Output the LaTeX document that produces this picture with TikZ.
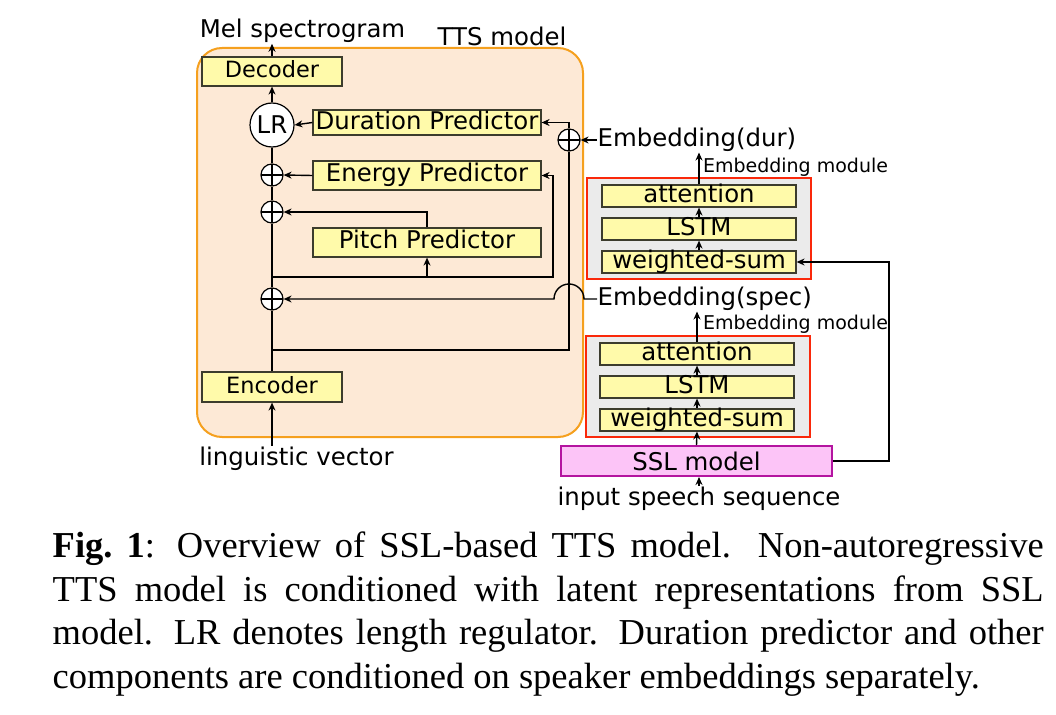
\documentclass[tikz,border=0pt]{standalone}
\usepackage{fontspec}
\setmainfont{Liberation Serif}
\newfontfamily\diagfont{DejaVu Sans}
\usetikzlibrary{arrows.meta}

\definecolor{ttsfill}{RGB}{253,233,214}
\definecolor{ttsline}{RGB}{245,160,30}
\definecolor{blockfill}{RGB}{255,250,170}
\definecolor{blockline}{RGB}{60,60,45}
\definecolor{modfill}{RGB}{235,235,235}
\definecolor{modline}{RGB}{250,40,10}
\definecolor{sslfill}{RGB}{252,196,247}
\definecolor{sslline}{RGB}{180,20,160}

\newcommand{\bigtxt}{\diagfont\fontsize{24.4}{28}\selectfont}
\newcommand{\midtxt}{\diagfont\fontsize{22.4}{26}\selectfont}
\newcommand{\smalltxt}{\diagfont\fontsize{19}{22}\selectfont}

\begin{document}
\begin{tikzpicture}[x=1pt, y=-1pt, line width=1.4pt, >={Stealth[length=8pt,width=7pt]},
  txt/.style={font=\bigtxt, inner sep=0pt},
  block/.style={draw=blockline, fill=blockfill, line width=1.2pt, inner sep=0pt, font=\bigtxt, text height=18pt, text depth=6pt},
  small block/.style={block, minimum width=194pt, minimum height=22pt, text height=17pt, text depth=5pt},
  module/.style={draw=modline, fill=modfill, line width=2pt, minimum width=224pt, minimum height=101pt},
  opl/.style={circle, draw, fill=white, line width=1.2pt, minimum size=22pt, inner sep=0pt,
    path picture={\draw (path picture bounding box.north) -- (path picture bounding box.south)
      (path picture bounding box.west) -- (path picture bounding box.east);}}]
\useasboundingbox (0,0) rectangle (1056,714);

% TTS model
\node[draw=ttsline, fill=ttsfill, line width=2pt, rounded corners=25pt, minimum width=386pt, minimum height=389pt] (tts) at (390,242.5) {};
\node[txt, anchor=base] (ttslabel) at (502,46) {TTS model};
\node[txt, anchor=base] (mel) at (302.5,38) {Mel spectrogram};
\node[block, font=\midtxt, minimum width=140pt, minimum height=29pt] (dec) at (272,71.5) {Decoder};
\node[circle, draw, fill=white, line width=1.2pt, minimum size=44pt, inner sep=0pt, font=\bigtxt] (lr) at (272,125) {LR};
\node[block, minimum width=228pt, minimum height=25pt, text height=19pt, text depth=5pt] (dur) at (427,122.5) {Duration Predictor};
\node[block, minimum width=228pt, minimum height=29pt] (ene) at (427,175.5) {Energy Predictor};
\node[block, minimum width=228pt, minimum height=29pt] (pit) at (427,242.5) {Pitch Predictor};
\node[opl] (opE) at (272,175) {};
\node[opl] (opP) at (272,212) {};
\node[opl] (opS) at (272,299) {};
\node[opl] (opD) at (569,140) {};
\node[block, font=\midtxt, minimum width=140pt, minimum height=30pt] (enc) at (272,387) {Encoder};
\node[txt, anchor=base] (ling) at (296.5,465) {linguistic vector};
\coordinate (b1) at (272,277);
\coordinate (b2) at (272,350);

% embedding modules
\node[txt, anchor=west] (edur) at (597,140) {Embedding(dur)};
\node[txt, anchor=base, font=\smalltxt] (emod1) at (795.5,172) {Embedding module};
\node[module] (mod1) at (698.5,228.5) {};
\node[small block] (attn1) at (699,196) {attention};
\node[small block] (lstm1) at (699,229) {LSTM};
\node[small block] (ws1) at (699,262) {weighted-sum};
\node[txt, anchor=west] (espec) at (597,299) {Embedding(spec)};
\node[txt, anchor=base, font=\smalltxt] (emod2) at (795.5,329) {Embedding module};
\node[module] (mod2) at (698,386.5) {};
\node[small block] (attn2) at (697,354) {attention};
\node[small block] (lstm2) at (697,387) {LSTM};
\node[small block] (ws2) at (697,420) {weighted-sum};
\node[draw=sslline, fill=sslfill, line width=2pt, minimum width=271pt, minimum height=30pt, inner sep=0pt, font=\bigtxt] (ssl) at (696.5,461) {SSL model};
\node[txt, anchor=base] (inp) at (699,505) {input speech sequence};

% connectors
\draw[->] (dec.north) -- (dec.north |- mel.south);
\draw[->] (lr.north) -- (dec.south);
\draw (enc.north) -- (opS.south);
\draw (opS.north) -- (opP.south);
\draw (opP.north) -- (opE.south);
\draw (opE.north) -- (lr.south);
\draw[->] (dur.west) -- (lr.east);
\draw[->] (ene.west) -- (opE.east);
\draw[->] (pit.north) |- (opP.east);
\draw[->] (b1) -- (553,277) |- (ene.east);
\draw[->] (pit.south |- b1) -- (pit.south);
\draw (b2) -| (opD.south);
\draw[->] (opD.north) |- (dur.east);
\draw[->] (edur.west) -- (opD.east);
\draw[->] (espec.west) -- (584,299) arc[start angle=0, end angle=-180, radius=15] -- (opS.east);
\draw[->] (enc.south |- ling.north) -- (enc.south);
\draw[->] (ws1.north) -- (lstm1.south);
\draw[->] (lstm1.north) -- (attn1.south);
\draw[->] (attn1.north) -- (attn1.north |- edur.south);
\draw[->] (ws2.north) -- (lstm2.south);
\draw[->] (lstm2.north) -- (attn2.south);
\draw[->] (attn2.north) -- (attn2.north |- espec.south);
\draw[->] (ssl.north) -- (ws2.south);
\draw[->] (inp.north) -- (inp.north |- ssl.south);
\draw[->] (ssl.east) -- (889,461) |- (ws1.east);

% caption
\node[anchor=north west, inner sep=0pt, text width=991pt, align=justify,
  font=\fontsize{36.5}{43.7}\selectfont] (cap) at (52,531)
  {\textbf{Fig.\ 1}: Overview of SSL-based TTS model. Non-autoregressive\linebreak
   TTS model is conditioned with latent representations from SSL\linebreak
   model. LR denotes length regulator. Duration predictor and other\linebreak
   components are conditioned on speaker embeddings separately.};
\end{tikzpicture}
\end{document}
